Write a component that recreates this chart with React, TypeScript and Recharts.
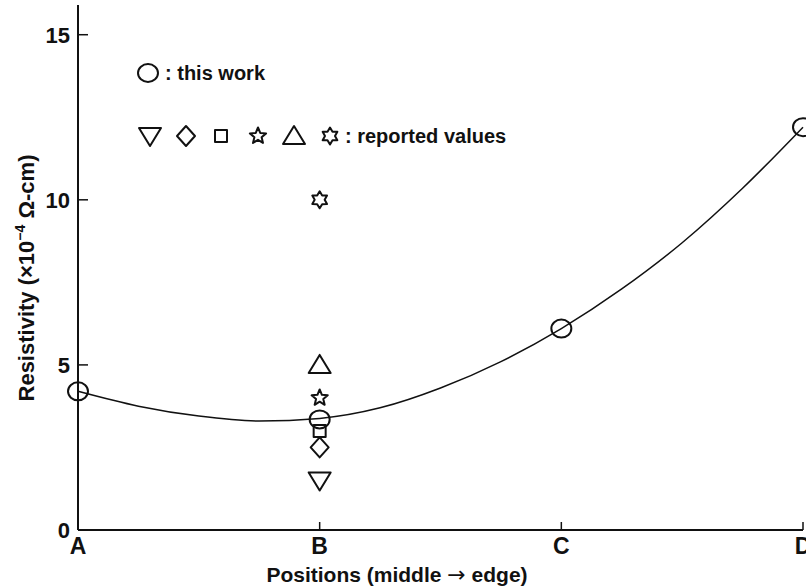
import { ComposedChart, Line, Scatter, XAxis, YAxis } from 'recharts';

const positions = ['A', 'B', 'C', 'D'];
const positionX = [0, 1, 2, 3];
const thisWork = [4.2, 3.35, 6.1, 12.2];

// fitted curve
const fitX = [0, 0.25, 0.5, 0.75, 1, 1.25, 1.5, 1.75, 2, 2.25, 2.5, 2.75, 3];
const fitY = [4.2, 3.75, 3.45, 3.3, 3.38, 3.7, 4.3, 5.1, 6.1, 7.3, 8.7, 10.35, 12.2];

const reportedKinds = ['triDown', 'diamond', 'square', 'star', 'triUp', 'hexagram'];
const reportedValues = [1.5, 2.5, 3.0, 4.0, 5.0, 10.0];

const yTicks = [0, 5, 10, 15];

const INK = '#111';
const FONT = '"Liberation Sans", Arial, sans-serif';

const fitData = fitX.map((x, i) => ({ x, fit: fitY[i] }));
const thisWorkData = positionX.map((x, i) => ({ x, y: thisWork[i] }));

function starPoints(cx: number, cy: number, n: number, ro: number, ri: number) {
  const pts: string[] = [];
  for (let i = 0; i < n * 2; i++) {
    const r = i % 2 === 0 ? ro : ri;
    const a = -Math.PI / 2 + (i * Math.PI) / n;
    pts.push(`${cx + r * Math.cos(a)},${cy + r * Math.sin(a)}`);
  }
  return pts.join(' ');
}

function Marker({ kind, cx, cy }: { kind: string; cx: number; cy: number }) {
  const common = { fill: 'none', stroke: INK, strokeWidth: 2, strokeLinejoin: 'round' as const };
  switch (kind) {
    case 'circle':
      return <ellipse cx={cx} cy={cy} rx={10} ry={9} {...common} />;
    case 'triDown':
      return <polygon points={`${cx - 11},${cy - 8} ${cx + 11},${cy - 8} ${cx},${cy + 10}`} {...common} />;
    case 'triUp':
      return <polygon points={`${cx - 11},${cy + 8} ${cx + 11},${cy + 8} ${cx},${cy - 10}`} {...common} />;
    case 'diamond':
      return <polygon points={`${cx},${cy - 10} ${cx + 9},${cy} ${cx},${cy + 10} ${cx - 9},${cy}`} {...common} />;
    case 'square':
      return <rect x={cx - 6} y={cy - 6} width={12} height={12} {...common} />;
    case 'star':
      return <polygon points={starPoints(cx, cy, 5, 8.5, 3.8)} {...common} />;
    case 'hexagram':
      return <polygon points={starPoints(cx, cy, 6, 8.5, 5)} {...common} />;
    default:
      return null;
  }
}

function BottomTick(props: any) {
  const { x, y, payload } = props;
  return (
    <g>
      <line x1={x} y1={y - 6} x2={x} y2={y - 14} stroke={INK} strokeWidth={1.5} />
      <text x={x} y={y} dy="0.8em" textAnchor="middle" fill={INK} fontSize={23} fontWeight="bold" fontFamily={FONT}>
        {positions[positionX.indexOf(payload.value)]}
      </text>
    </g>
  );
}

function LeftTick(props: any) {
  const { x, y, payload } = props;
  return (
    <g>
      <line x1={x + 8} y1={y} x2={x + 18} y2={y} stroke={INK} strokeWidth={1.5} />
      <text x={x} y={y} dy="0.36em" textAnchor="end" fill={INK} fontSize={22} fontWeight="bold" fontFamily={FONT}>
        {payload.value}
      </text>
    </g>
  );
}

function RightTick(props: any) {
  const { x, y } = props;
  return <line x1={x} y1={y} x2={x - 10} y2={y} stroke={INK} strokeWidth={1.5} />;
}

function TopTick(props: any) {
  const { x, y } = props;
  return <line x1={x} y1={y} x2={x} y2={y + 8} stroke={INK} strokeWidth={1.5} />;
}

function XTitle(props: any) {
  const { viewBox } = props;
  const cx = viewBox.x + viewBox.width * 0.44;
  return (
    <text x={cx} y={viewBox.y + 52} textAnchor="middle" fill={INK} fontSize={21} fontWeight="bold" fontFamily={FONT}>
      Positions (middle{' '}
      <tspan fontFamily='"DejaVu Sans", sans-serif' fontWeight="normal" fontSize={22}>
        →
      </tspan>{' '}
      edge)
    </text>
  );
}

function YTitle(props: any) {
  const { viewBox } = props;
  const cy = viewBox.y + viewBox.height * 0.52;
  const cx = 26;
  return (
    <text
      x={cx}
      y={cy}
      transform={`rotate(-90 ${cx} ${cy})`}
      textAnchor="middle"
      dy="0.35em"
      fill={INK}
      fontSize={22}
      fontWeight="bold"
      fontFamily={FONT}
    >
      Resistivity (×10
      <tspan dy={-9} fontSize={14}>−4</tspan>
      <tspan dy={9}> Ω-cm)</tspan>
    </text>
  );
}

const legendRow2 = [
  { kind: 'triDown', x: 150 },
  { kind: 'diamond', x: 186 },
  { kind: 'square', x: 221 },
  { kind: 'star', x: 258 },
  { kind: 'triUp', x: 294 },
  { kind: 'hexagram', x: 330 },
];

export default function App() {
  return (
    <div style={{ position: 'absolute', left: 0, top: 0, width: 806, height: 588, background: '#fff' }}>
      <ComposedChart width={806} height={588} data={fitData} margin={{ top: 5, right: 3, left: 0, bottom: 0 }}>
        <XAxis
          xAxisId="bottom"
          type="number"
          dataKey="x"
          domain={[0, 3]}
          ticks={positionX}
          interval={0}
          height={58}
          tickSize={0}
          tickMargin={6}
          tick={<BottomTick />}
          axisLine={{ stroke: INK, strokeWidth: 2 }}
          label={<XTitle />}
        />
        <XAxis
          xAxisId="top"
          orientation="top"
          type="number"
          dataKey="x"
          domain={[0, 3]}
          ticks={[1, 2]}
          height={0}
          tickSize={0}
          tick={<TopTick />}
          axisLine={{ stroke: INK, strokeWidth: 2 }}
        />
        <YAxis
          yAxisId="left"
          type="number"
          domain={[0, 15.9]}
          ticks={yTicks}
          interval={0}
          width={78}
          tickSize={0}
          tickMargin={8}
          tick={<LeftTick />}
          axisLine={{ stroke: INK, strokeWidth: 2 }}
          label={<YTitle />}
        />
        <YAxis
          yAxisId="right"
          orientation="right"
          type="number"
          domain={[0, 15.9]}
          ticks={[5, 10, 15]}
          width={0}
          tickSize={0}
          tick={<RightTick />}
          axisLine={{ stroke: INK, strokeWidth: 1.5, strokeDasharray: '6 3' }}
        />
        <Line
          xAxisId="bottom"
          yAxisId="left"
          dataKey="fit"
          type="monotone"
          stroke={INK}
          strokeWidth={1.5}
          dot={false}
          activeDot={false}
          isAnimationActive={false}
        />
        <Scatter
          xAxisId="bottom"
          yAxisId="left"
          data={thisWorkData}
          dataKey="y"
          shape={(p: any) => <Marker kind="circle" cx={p.cx} cy={p.cy} />}
          isAnimationActive={false}
        />
        {reportedKinds.map((kind, i) => (
          <Scatter
            key={kind}
            xAxisId="bottom"
            yAxisId="left"
            data={[{ x: 1, y: reportedValues[i] }]}
            dataKey="y"
            shape={(p: any) => <Marker kind={kind} cx={p.cx} cy={p.cy} />}
            isAnimationActive={false}
          />
        ))}
      </ComposedChart>
      <svg width={806} height={588} style={{ position: 'absolute', left: 0, top: 0, pointerEvents: 'none' }}>
        <Marker kind="circle" cx={148} cy={73} />
        <text x={165} y={73} dy="0.36em" fill={INK} fontSize={20} fontWeight="bold" fontFamily={FONT}>
          : this work
        </text>
        {legendRow2.map((m) => (
          <Marker key={m.kind} kind={m.kind} cx={m.x} cy={136} />
        ))}
        <text x={345} y={136} dy="0.36em" fill={INK} fontSize={20} fontWeight="bold" fontFamily={FONT}>
          : reported values
        </text>
      </svg>
    </div>
  );
}
